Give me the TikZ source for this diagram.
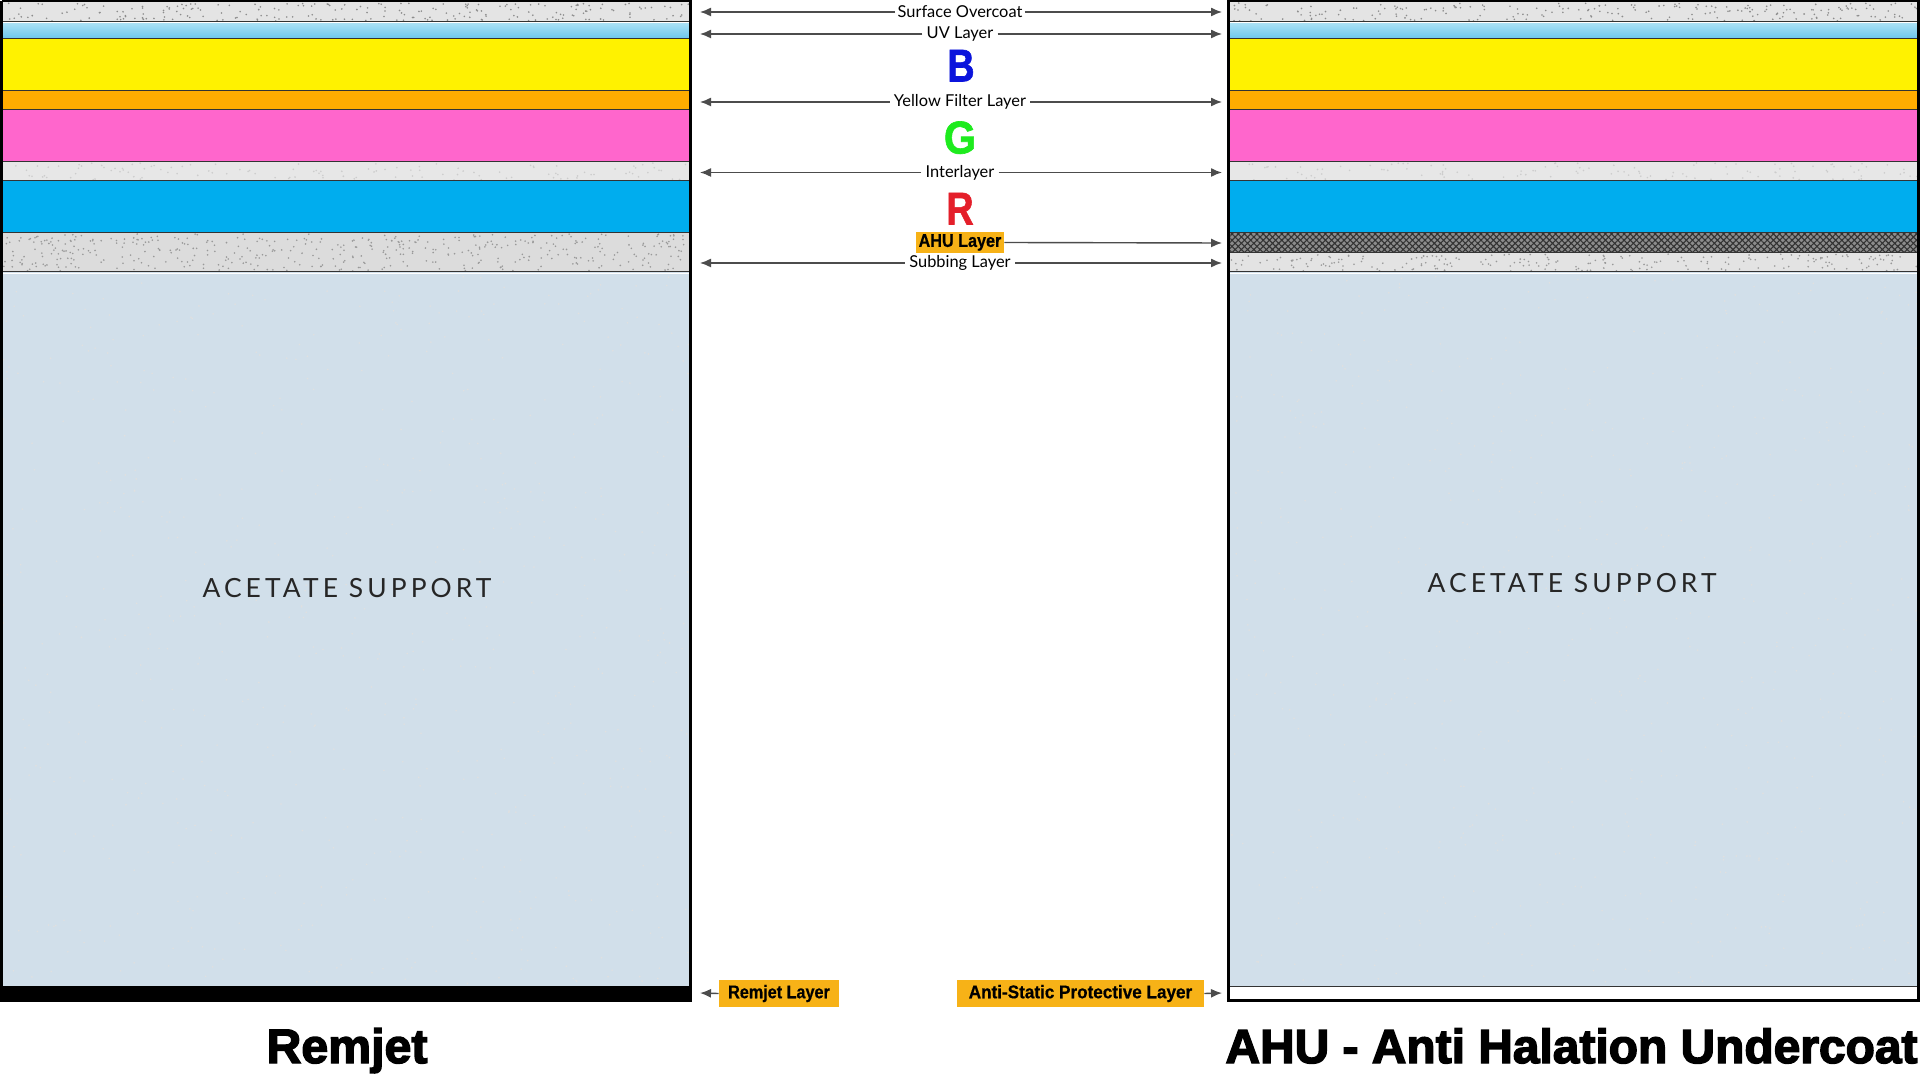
\documentclass[tikz,border=0pt]{standalone}
\usepackage{fontspec}
\setmainfont{Lato}
\newfontfamily\geo[FakeBold=1.4]{Liberation Sans}
\newfontfamily\tagfont[FakeBold=0.6]{Liberation Sans}
\newfontfamily\titlefont[FakeBold=3]{Liberation Sans}
\newfontfamily\acefont[LetterSpace=15.5]{Lato}
\usetikzlibrary{arrows.meta,patterns.meta}
\definecolor{ovc}{HTML}{E4E4E4}
\definecolor{uvtop}{HTML}{A8E0F5}
\definecolor{uvbot}{HTML}{6EC8EE}
\definecolor{yel}{HTML}{FFF200}
\definecolor{org}{HTML}{FFAC00}
\definecolor{pnk}{HTML}{FF66CC}
\definecolor{blu}{HTML}{00ADEE}
\definecolor{inter}{HTML}{E7E7E7}
\definecolor{subc}{HTML}{DCDCDC}
\definecolor{acet}{HTML}{D1DFEA}
\definecolor{labc}{HTML}{F7B217}
\definecolor{Bc}{HTML}{0B14DC}
\definecolor{Gc}{HTML}{1EEB1E}
\definecolor{Rc}{HTML}{E41F2A}
\newcommand\myspeck[6]{%
  \foreach \k in {1,...,#5}{%
    \pgfmathsetmacro\sx{#1+rnd*(#3-#1)}%
    \pgfmathsetmacro\sy{#2+rnd*(#4-#2)}%
    \fill[#6] (\sx,\sy) circle (0.45pt);}}
\newcommand\cond[2][0.88]{\scalebox{#1}[1]{#2}}
\begin{document}
\begin{tikzpicture}[x=0.5pt,y=-0.5pt,
  sep/.style={line width=0.5pt,black!80},
  lbl/.style={font=\fontsize{8.2pt}{9pt}\selectfont,fill=white,inner sep=2pt},
  arr/.style={line width=0.7pt,black!70,-{Latex[length=5.5pt,width=4.5pt]}},
  tag/.style={fill=labc,inner sep=0pt,font=\tagfont\bfseries\fontsize{9.2pt}{10pt}\selectfont},
  lett/.style={font=\geo\bfseries\fontsize{23pt}{26pt}\selectfont,inner sep=0pt,text height=16.5pt,text depth=0pt},
  acetxt/.style={font=\acefont\fontsize{13.2pt}{15pt}\selectfont,text=black!85},
  ttl/.style={font=\titlefont\bfseries,anchor=base}]
\pgfmathsetseed{17}
\useasboundingbox (0,0) rectangle (1920,1074);
\fill[white] (0,0) rectangle (1920,1074);
% ---------- common layers of both panels
\foreach \xa/\xb in {3/689,1230/1917}{
  \fill[ovc] (\xa,2) rectangle (\xb,22);
  \myspeck{\xa}{3}{\xb}{21}{220}{black!45}
  \shade[top color=uvtop,bottom color=uvbot] (\xa,23.5) rectangle (\xb,38);
  \fill[yel] (\xa,38) rectangle (\xb,90);
  \fill[org] (\xa,90) rectangle (\xb,110);
  \fill[pnk] (\xa,110) rectangle (\xb,161);
  \fill[inter] (\xa,161) rectangle (\xb,181);
  \myspeck{\xa}{163}{\xb}{180}{120}{black!20}
  \fill[blu] (\xa,181) rectangle (\xb,232);
  \fill[acet] (\xa,272) rectangle (\xb,986);
  \myspeck{\xa}{276}{\xb}{984}{700}{black!12}
  \foreach \yy in {22,38.5,90.5,109.5,161.5,181,232.5,272}
    \draw[sep] (\xa,\yy) -- (\xb,\yy);
  \draw[white,line width=0.5pt] (\xa,273.2) -- (\xb,273.2);
}
% ---------- left panel specifics
\fill[subc] (3,233) rectangle (689,271.5);
\myspeck{3}{234}{689}{271}{450}{black!40}
\draw[sep] (3,272) -- (689,272);
\fill[black] (0,986) rectangle (692,1001.5);
\draw[line width=1.5pt] (1.5,1) -- (690.5,1) -- (690.5,993) (1.5,1) -- (1.5,993);
% ---------- right panel specifics
\fill[black!45] (1230,233) rectangle (1917,252);
\fill[pattern={Hatch[angle=45,distance=2.2pt,line width=0.55pt]},pattern color=black!80] (1230,233) rectangle (1917,252);
\draw[sep] (1230,252.5) -- (1917,252.5);
\fill[subc!80!white] (1230,253) rectangle (1917,271.5);
\myspeck{1230}{254}{1917}{271}{220}{black!40}
\draw[sep] (1230,272) -- (1917,272);
\draw[sep] (1230,986.5) -- (1917,986.5);
\draw[line width=1.5pt] (1228.5,1) rectangle (1918.5,1000.5);
% ---------- acetate labels
\node[acetxt] (acl) at (347,588) {ACETATE SUPPORT};
\node[acetxt] (acr) at (1572,583) {ACETATE SUPPORT};
% ---------- arrow end points
\foreach \n/\yy in {so/12,uv/34,yf/102,il/172.5,ah/243,sb/263,rj/993,as/993}{
  \coordinate (L\n) at (700,\yy);
  \coordinate (R\n) at (1222,\yy);
}
% ---------- centre labels
\node[lbl,inner sep=1pt] (so) at (960,12) {Surface Overcoat};
\node[lbl] (uv) at (960,34) {UV Layer};
\node[lbl] (yf) at (960,102) {Yellow Filter Layer};
\node[lbl] (il) at (960,172.5) {Interlayer};
\node[lbl] (sb) at (960,263) {Subbing Layer};
\foreach \n in {so,uv,yf,il,sb}{
  \draw[arr] (\n.west) -- (L\n);
  \draw[arr] (\n.east) -- (R\n);
}
\node[lett,text=Bc] (B) at (961,65) {\cond[0.82]{B}};
\node[lett,text=Gc] (G) at (960,137) {\cond[0.9]{G}};
\node[lett,text=Rc] (R) at (960,208) {\cond[0.82]{R}};
\node[tag,minimum width=44pt,minimum height=10.5pt] (ah) at (960,242.5) {\cond{AHU Layer}};
\draw[arr] (ah.east) -- (Rah);
\node[tag,minimum width=60pt,minimum height=13.5pt] (rj) at (779,993.5) {\cond{Remjet Layer}};
\draw[arr] (rj.west) -- (Lrj);
\node[tag,minimum width=123.5pt,minimum height=13.5pt] (as) at (1080.5,993.5) {\cond[0.93]{Anti-Static Protective Layer}};
\draw[arr] (as.east) -- (Ras);
% ---------- titles
\node[ttl] (t1) at (347,1063) {\resizebox{80.5pt}{!}{Remjet}};
\node[ttl] (t2) at (1571.5,1063) {\resizebox{346pt}{!}{AHU - Anti Halation Undercoat}};
\end{tikzpicture}
\end{document}
